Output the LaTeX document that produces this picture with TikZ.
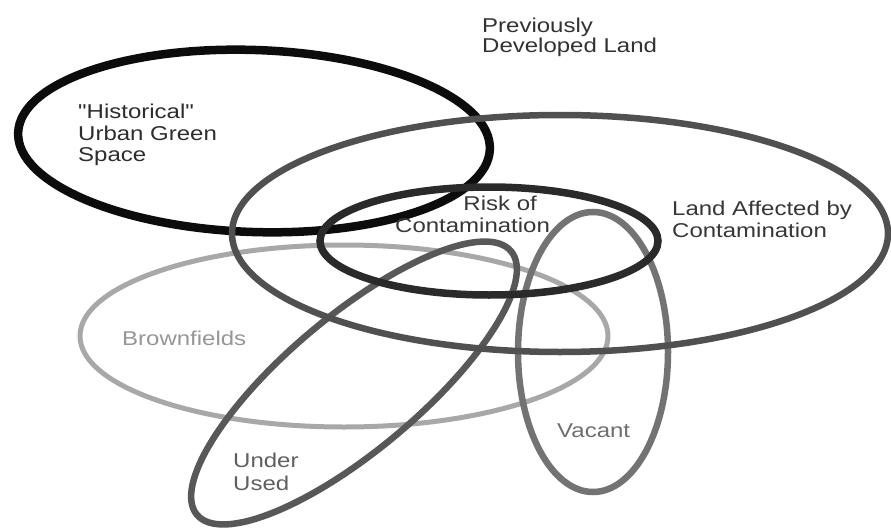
\documentclass[tikz,border=0pt]{standalone}
\usepackage{fontspec}
\newfontfamily\lab[FakeStretch=1.2]{Liberation Sans}
\begin{document}
\begin{tikzpicture}[x=1pt,y=-1pt,
  lbl/.style={inner sep=0pt,font=\lab\fontsize{20}{22}\selectfont},
  ring/.style={line width=#1}]
\useasboundingbox (0,0) rectangle (891,532);
\fill[white] (0,0) rectangle (891,532);
% ellipses
\draw[ring=8.5, color={rgb,255:red,12;green,12;blue,12}, rotate around={-2:(254,141)}] (254,141) ellipse [x radius=236, y radius=91];
\draw[ring=5, color={rgb,255:red,168;green,168;blue,168}] (344,336) ellipse [x radius=264, y radius=91];
\draw[ring=6.5, color={rgb,255:red,88;green,88;blue,88}, rotate around={40:(354,383)}] (354,383) ellipse [x radius=205, y radius=67];
\draw[ring=6.5, color={rgb,255:red,115;green,115;blue,115}] (593,352) ellipse [x radius=75, y radius=140];
\draw[ring=6.5, color={rgb,255:red,80;green,80;blue,80}] (560,233.5) ellipse [x radius=328, y radius=118.5];
\draw[ring=7.5, color={rgb,255:red,42;green,42;blue,42}] (489,241) ellipse [x radius=169, y radius=54];
% labels
\node[lbl, anchor=base west, text={rgb,255:red,45;green,45;blue,45}] (h1) at (78,118) {"Historical"};
\node[lbl, anchor=base west, text={rgb,255:red,45;green,45;blue,45}] (h2) at (78,140) {Urban Green};
\node[lbl, anchor=base west, text={rgb,255:red,45;green,45;blue,45}] (h3) at (78,161) {Space};
\node[lbl, anchor=base west, text={rgb,255:red,50;green,50;blue,50}] (p1) at (482,33) {Previously};
\node[lbl, anchor=base west, text={rgb,255:red,50;green,50;blue,50}] (p2) at (482,53) {Developed Land};
\node[lbl, anchor=base west, text={rgb,255:red,55;green,55;blue,55}] (l1) at (672,215) {Land Affected by};
\node[lbl, anchor=base west, text={rgb,255:red,55;green,55;blue,55}] (l2) at (672,237) {Contamination};
\node[lbl, anchor=base east, text={rgb,255:red,55;green,55;blue,55}] (r1) at (537,210) {Risk of};
\node[lbl, anchor=base west, text={rgb,255:red,55;green,55;blue,55}] (r2) at (395,232) {Contamination};
\node[lbl, anchor=base west, text={rgb,255:red,150;green,150;blue,150}] (b1) at (122,345) {Brownfields};
\node[lbl, anchor=base west, text={rgb,255:red,95;green,95;blue,95}] (u1) at (233,467) {Under};
\node[lbl, anchor=base west, text={rgb,255:red,95;green,95;blue,95}] (u2) at (233,490) {Used};
\node[lbl, anchor=base west, text={rgb,255:red,110;green,110;blue,110}] (v1) at (557,437) {Vacant};
\end{tikzpicture}
\end{document}
